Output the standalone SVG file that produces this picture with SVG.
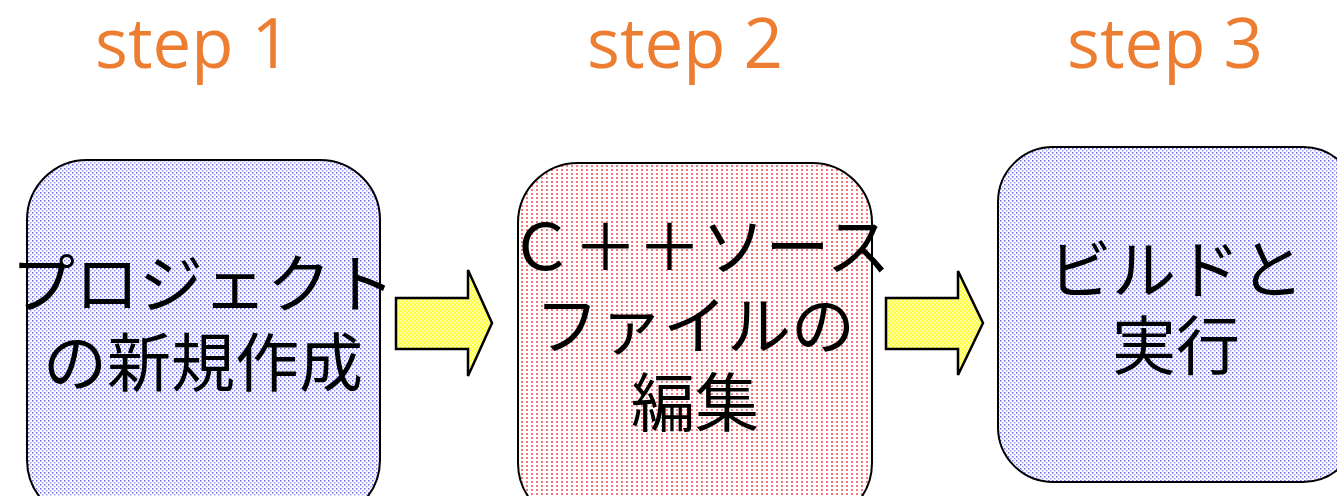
<svg xmlns="http://www.w3.org/2000/svg" width="1337" height="496" viewBox="0 0 1337 496">
<defs>
<pattern id="pBlue" width="4" height="4" patternUnits="userSpaceOnUse">
<rect width="4" height="4" fill="#ffffff"/>
<rect x="0" y="0" width="1.5" height="1.5" fill="#6a6aea"/>
<rect x="2" y="2" width="1.5" height="1.5" fill="#a0a0f2"/>
</pattern>
<pattern id="pRed" width="5" height="4" patternUnits="userSpaceOnUse">
<rect width="5" height="4" fill="#ffffff"/>
<rect x="1" y="1" width="2" height="2" fill="#f47878"/>
</pattern>
<pattern id="pYellow" width="4" height="4" patternUnits="userSpaceOnUse">
<rect width="4" height="4" fill="#ffff40"/>
<rect x="0" y="0" width="1.5" height="1.5" fill="#ffffc8"/>
<rect x="2" y="2" width="1.5" height="1.5" fill="#ffffc8"/>
</pattern>
</defs>
<style>
.step{font-family:"Open Sans","Noto Sans",sans-serif;font-size:69px;fill:#ED7D31;text-anchor:middle}
.lbl{font-family:"Noto Sans CJK JP",sans-serif;font-size:64px;fill:#000;text-anchor:middle}
.box{stroke:#000;stroke-width:2}
.arrow{fill:url(#pYellow);stroke:#000;stroke-width:2.5}
</style>
<g id="titles">
<text class="step" x="193" y="68">step 1</text>
<text class="step" x="685" y="68">step 2</text>
<text class="step" x="1165" y="68">step 3</text>
</g>
<g id="node1">
<rect class="box" x="27" y="160" width="353" height="360" rx="60" fill="url(#pBlue)"/>
<text class="lbl" x="203" y="307">プロジェクト</text>
<text class="lbl" x="203" y="386">の新規作成</text>
</g>
<g id="node2">
<rect class="box" x="518" y="163" width="354" height="360" rx="60" fill="url(#pRed)"/>
<text class="lbl" x="700" y="270">Ｃ＋＋ソース</text>
<text class="lbl" x="695" y="349">ファイルの</text>
<text class="lbl" x="695" y="426">編集</text>
</g>
<g id="node3">
<rect class="box" x="998" y="147" width="360" height="335" rx="55" fill="url(#pBlue)"/>
<text class="lbl" x="1176" y="293">ビルドと</text>
<text class="lbl" x="1176" y="369">実行</text>
</g>
<g id="connectors">
<polygon class="arrow" points="396,298 468,298 468,270 492,323 468,376 468,349 396,349"/>
<polygon class="arrow" points="886,298 958,298 958,271 983,323 958,375 958,349 886,349"/>
</g>
</svg>
